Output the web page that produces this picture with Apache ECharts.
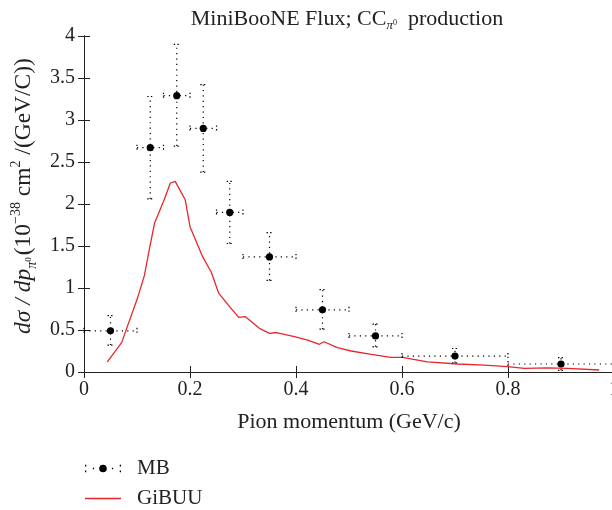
<!DOCTYPE html>
<html>
<head>
<meta charset="utf-8">
<script src="https://cdn.jsdelivr.net/npm/echarts@6/dist/echarts.min.js"></script>
<style>html,body{margin:0;padding:0;background:#fff}#c{width:612px;height:510px}</style>
</head>
<body>
<div id="c"></div>
<script>
// MB data: centre, value, bin edges, error range
const mbX    = [0.05, 0.125, 0.175, 0.225, 0.275, 0.35, 0.45, 0.55, 0.70, 0.90];
const mbY    = [0.49, 2.67, 3.29, 2.90, 1.90, 1.37, 0.74, 0.43, 0.19, 0.095];
const mbXlo  = [0.00, 0.10, 0.15, 0.20, 0.25, 0.30, 0.40, 0.50, 0.60, 0.80];
const mbXhi  = [0.10, 0.15, 0.20, 0.25, 0.30, 0.40, 0.50, 0.60, 0.80, 1.00];
const mbYlo  = [0.32, 2.06, 2.69, 2.38, 1.53, 1.09, 0.51, 0.30, 0.11, 0.02];
const mbYhi  = [0.67, 3.28, 3.90, 3.42, 2.27, 1.66, 0.98, 0.57, 0.28, 0.17];

// GiBUU curve
const gibuuX = [0.044,0.071,0.101,0.114,0.123,0.133,0.150,0.163,0.172,0.191,0.200,0.224,0.240,0.254,0.277,0.292,0.304,0.331,0.350,0.363,0.397,0.422,0.444,0.453,0.478,0.504,0.542,0.579,0.601,0.648,0.705,0.755,0.799,0.831,0.875,0.912,0.972];
const gibuuY = [0.12,0.35,0.88,1.15,1.45,1.77,2.03,2.25,2.27,2.05,1.73,1.37,1.19,0.94,0.76,0.65,0.66,0.52,0.46,0.47,0.42,0.38,0.33,0.36,0.29,0.25,0.21,0.175,0.175,0.12,0.095,0.083,0.063,0.043,0.05,0.043,0.024];

const xTicks = [0, 0.2, 0.4, 0.6, 0.8, 1];
const yTicks = [0, 0.5, 1, 1.5, 2, 2.5, 3, 3.5, 4];

const FONT = 'Liberation Serif';
const TXT = '#222';

const mbData = mbX.map((x, i) => [x, mbY[i], mbXlo[i], mbXhi[i], mbYlo[i], mbYhi[i]]);
const gibuuData = gibuuX.map((x, i) => [x, gibuuY[i]]);

function renderErr(params, api) {
  const c = api.coord([api.value(0), api.value(1)]);
  const lo = api.coord([api.value(2), api.value(1)]);
  const hi = api.coord([api.value(3), api.value(1)]);
  const bot = api.coord([api.value(0), api.value(4)]);
  const top = api.coord([api.value(0), api.value(5)]);
  const st = {stroke: '#000', lineWidth: 1.2, lineDash: [1.2, 4.2], fill: null};
  const cap = {stroke: '#000', lineWidth: 1.2, lineDash: [1.4, 2.2], fill: null};
  const w = 3;
  return {
    type: 'group',
    children: [
      {type: 'line', shape: {x1: lo[0], y1: c[1], x2: hi[0], y2: c[1]}, style: st},
      {type: 'line', shape: {x1: c[0], y1: bot[1], x2: c[0], y2: top[1]}, style: st},
      {type: 'line', shape: {x1: c[0] - w, y1: top[1], x2: c[0] + w, y2: top[1]}, style: cap},
      {type: 'line', shape: {x1: c[0] - w, y1: bot[1], x2: c[0] + w, y2: bot[1]}, style: cap},
      {type: 'line', shape: {x1: lo[0], y1: c[1] - w, x2: lo[0], y2: c[1] + w}, style: cap},
      {type: 'line', shape: {x1: hi[0], y1: c[1] - w, x2: hi[0], y2: c[1] + w}, style: cap},
      {type: 'circle', shape: {cx: c[0], cy: c[1], r: 3.6}, style: {fill: '#000'}}
    ]
  };
}

const chart = echarts.init(document.getElementById('c'), null, {renderer: 'canvas'});
const axisLine = {show: true, lineStyle: {color: TXT, width: 1}};
const tick = {show: true, inside: true, length: 6, lineStyle: {color: TXT, width: 1}};
const lbl = {color: TXT, fontFamily: FONT, fontSize: 20};

chart.setOption({
  animation: false,
  backgroundColor: '#fff',
  title: {
    text: '{n|MiniBooNE Flux; CC}{s|π}{z|0}{n|  production}',
    left: 342, top: 1, textAlign: 'center',
    textStyle: {
      fontWeight: 'normal',
      rich: {
        n: {fontFamily: FONT, fontSize: 22, fontWeight: 'normal', color: TXT, lineHeight: 26, verticalAlign: 'middle'},
        s: {fontFamily: FONT, fontSize: 13, fontStyle: 'italic', fontWeight: 'normal', color: TXT, lineHeight: 13, verticalAlign: 'bottom'},
        z: {fontFamily: FONT, fontSize: 8, fontWeight: 'normal', color: TXT, lineHeight: 8, verticalAlign: 'bottom', padding: [0, 0, 5, 0]}
      }
    }
  },
  grid: {left: 84, right: -2, top: 36, bottom: 138, outerBoundsMode: 'none'},
  legend: {
    orient: 'vertical', left: 85, top: 458, padding: 0, itemWidth: 36, itemHeight: 10, itemGap: 9,
    textStyle: {color: TXT, fontFamily: FONT, fontSize: 21, lineHeight: 21, padding: [0, 0, 0, 11]},
    data: [
      {name: 'MB', icon: 'path://M0,1.5h1.2v1.6h-1.2z M0,6.9h1.2v1.6h-1.2z M7.4,4.4h1.2v1.2h-1.2z M13.4,5a3.6,3.6 0 1,0 7.2,0a3.6,3.6 0 1,0 -7.2,0z M25.4,4.4h1.2v1.2h-1.2z M32.8,1.5h1.2v1.6h-1.2z M32.8,6.9h1.2v1.6h-1.2z'},
      {name: 'GiBUU', icon: 'path://M0,0h34v1.4h-34z'}
    ]
  },
  xAxis: [
    {type: 'value', min: xTicks[0], max: xTicks[xTicks.length - 1], interval: 0.2,
     name: 'Pion momentum (GeV/c)', nameLocation: 'middle', nameGap: 39,
     nameTextStyle: {color: TXT, fontFamily: FONT, fontSize: 22},
     axisLine: axisLine, axisTick: tick, axisLabel: Object.assign({margin: 8}, lbl), splitLine: {show: false}},
    {type: 'value', position: 'top', min: 0, max: 1, interval: 0.2,
     axisLine: axisLine, axisTick: tick, axisLabel: {show: false}, splitLine: {show: false}}
  ],
  yAxis: [
    {type: 'value', min: yTicks[0], max: yTicks[yTicks.length - 1], interval: 0.5,
     name: '{i|dσ / dp}{s|π}{z|0}{n|(10}{p|−38}{n| cm}{p|2}{n| /(GeV/C))}',
     nameLocation: 'middle', nameRotate: 90, nameGap: 41,
     nameTextStyle: {
       rich: {
         i: {fontFamily: FONT, fontSize: 23.5, fontStyle: 'italic', color: TXT, lineHeight: 30, verticalAlign: 'middle', padding: [0, 0, 0, 16]},
         n: {fontFamily: FONT, fontSize: 23.5, color: TXT, lineHeight: 30, verticalAlign: 'middle'},
         s: {fontFamily: FONT, fontSize: 14, fontStyle: 'italic', color: TXT, lineHeight: 14, verticalAlign: 'bottom'},
         z: {fontFamily: FONT, fontSize: 9, color: TXT, lineHeight: 9, verticalAlign: 'bottom', padding: [0, 2, 6, 0]},
         p: {fontFamily: FONT, fontSize: 14, color: TXT, lineHeight: 14, verticalAlign: 'top'}
       }
     },
     axisLine: axisLine, axisTick: tick, axisLabel: Object.assign({margin: 9}, lbl), splitLine: {show: false}},
    {type: 'value', position: 'right', min: 0, max: 4, interval: 0.5,
     axisLine: axisLine, axisTick: tick, axisLabel: {show: false}, splitLine: {show: false}}
  ],
  series: [
    {name: 'MB', type: 'custom', renderItem: renderErr, data: mbData, itemStyle: {color: '#000'},
     encode: {x: [0, 2, 3], y: [1, 4, 5]}, z: 3},
    {name: 'GiBUU', type: 'line', data: gibuuData, showSymbol: false, symbol: 'none',
     lineStyle: {color: '#e8262b', width: 1.3}, itemStyle: {color: '#e8262b'}, z: 2}
  ]
});
</script>
</body>
</html>
